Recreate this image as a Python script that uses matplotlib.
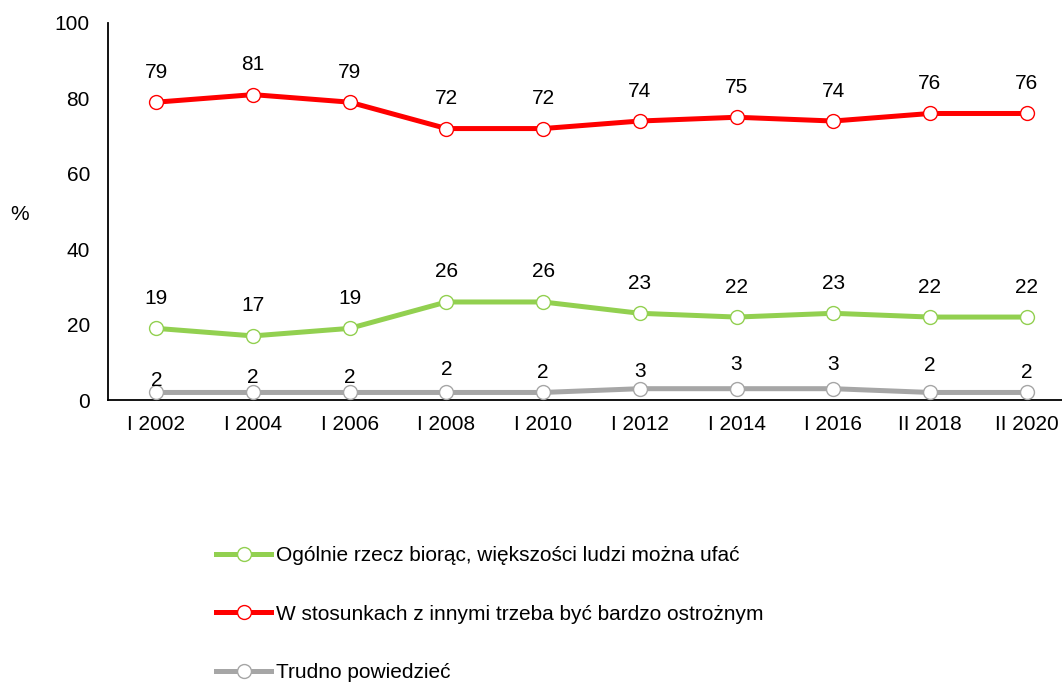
import matplotlib
matplotlib.use("Agg")
import matplotlib.pyplot as plt

plt.rcParams["font.family"] = ["Liberation Sans", "DejaVu Sans"]

periods = ["I 2002", "I 2004", "I 2006", "I 2008", "I 2010",
           "I 2012", "I 2014", "I 2016", "II 2018", "II 2020"]
trust = [19, 17, 19, 26, 26, 23, 22, 23, 22, 22]
careful = [79, 81, 79, 72, 72, 74, 75, 74, 76, 76]
hard_to_say = [2, 2, 2, 2, 2, 3, 3, 3, 2, 2]

# label lift above each point, in pixels (the gray ones sit closer, as in the source)
lift_main = [30] * len(periods)
lift_gray = [12, 15, 15, 23, 20, 17, 24, 24, 27, 20]

series = [
    ("Ogólnie rzecz biorąc, większości ludzi można ufać", trust, "#92D050", lift_main),
    ("W stosunkach z innymi trzeba być bardzo ostrożnym", careful, "#FF0000", lift_main),
    ("Trudno powiedzieć", hard_to_say, "#A6A6A6", lift_gray),
]

fs = 15
fig = plt.figure(figsize=(10.62, 6.83), dpi=100)
ax = fig.add_axes([108 / 1062, 1 - 400 / 683, (1075 - 108) / 1062, 377 / 683])

x = list(range(len(periods)))
for label, vals, color, lifts in series:
    ax.plot(x, vals, color=color, lw=3.6, marker="o", ms=10,
            mfc="white", mec=color, mew=1.0, label=label, zorder=3)
    for xi, v, lift in zip(x, vals, lifts):
        ax.annotate(str(v), (xi, v), xytext=(0, lift * 0.72), textcoords="offset points",
                    ha="center", va="center", fontsize=fs)

ax.set_xlim(-0.5, len(periods) - 0.5)
ax.set_ylim(0, 100)
ax.set_yticks([0, 20, 40, 60, 80, 100])
ax.set_xticks(x)
ax.set_xticklabels(periods)
ax.tick_params(axis="both", length=0, labelsize=fs)
ax.tick_params(axis="y", pad=13)
ax.tick_params(axis="x", pad=11)
for side in ["top", "right"]:
    ax.spines[side].set_visible(False)
for side in ["left", "bottom"]:
    ax.spines[side].set_color("black")
    ax.spines[side].set_linewidth(1.3)

fig.text(20 / 1062, 1 - 215 / 683, "%", fontsize=fs, ha="center", va="center")

fig.legend(loc="upper left", bbox_to_anchor=(216 / 1062, 1 - 546 / 683),
           frameon=False, fontsize=fs, labelspacing=1.9, handlelength=2.65,
           handletextpad=0.25, borderpad=0, borderaxespad=0)

fig.savefig("out.png", dpi=100)
